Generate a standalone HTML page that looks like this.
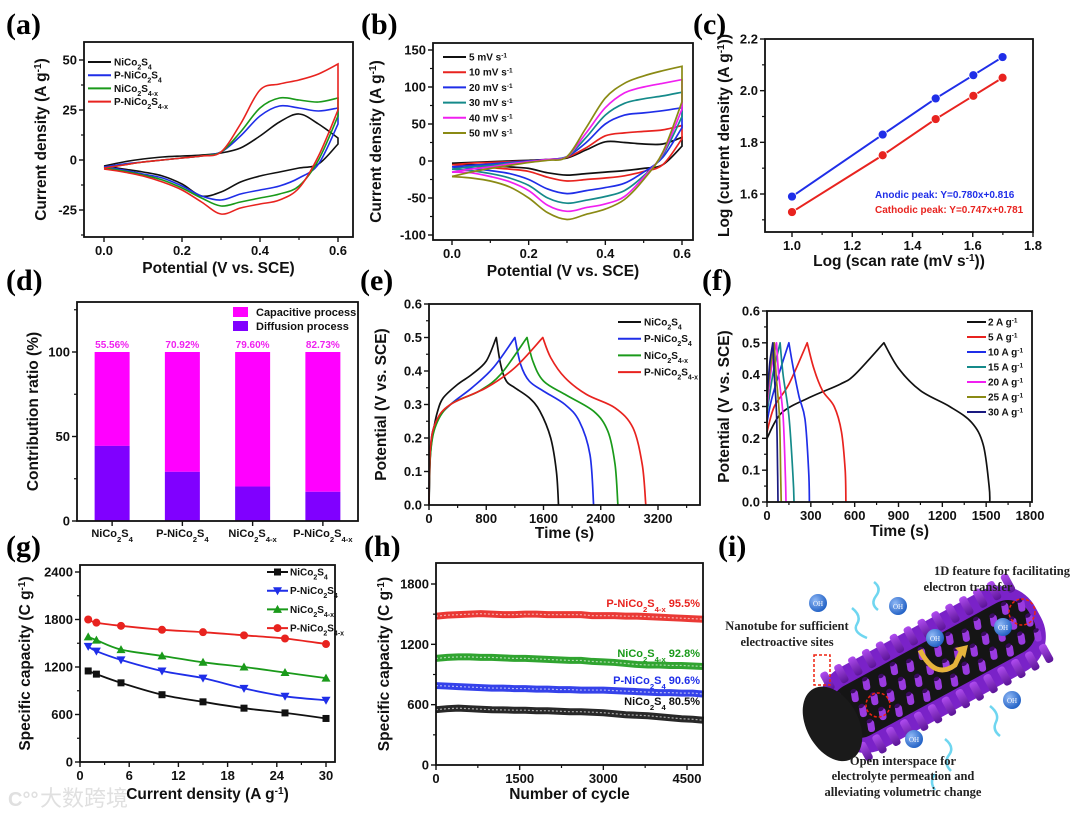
<!DOCTYPE html>
<html><head><meta charset="utf-8">
<style>
html,body{margin:0;padding:0;background:#fff;}
svg{display:block;font-family:"Liberation Sans",Arial,sans-serif;}
.tk{font-size:13px;font-weight:bold;fill:#111;}
.ti{font-size:15.5px;font-weight:bold;fill:#111;}
.pl{font-family:"Liberation Serif",serif;font-size:30px;font-weight:bold;fill:#000;}
.lg{font-size:10px;font-weight:bold;fill:#111;}
.ser{font-family:"Liberation Serif",serif;font-size:12.5px;font-weight:bold;fill:#222;}
</style></head>
<body>
<svg id="fig" width="1080" height="820" viewBox="0 0 1080 820" xmlns="http://www.w3.org/2000/svg">
<defs>
<radialGradient id="ohg" cx="0.35" cy="0.35" r="0.7"><stop offset="0" stop-color="#8fb8f5"/><stop offset="1" stop-color="#1f5fc4"/></radialGradient>
<linearGradient id="pg" x1="0" y1="0" x2="0" y2="1"><stop offset="0" stop-color="#b04cf0"/><stop offset="1" stop-color="#5a1496"/></linearGradient>
</defs>
<text class="pl" x="6" y="34">(a)</text>
<text class="pl" x="361" y="34">(b)</text>
<text class="pl" x="693" y="34">(c)</text>
<text class="pl" x="6" y="290">(d)</text>
<text class="pl" x="360" y="290">(e)</text>
<text class="pl" x="702" y="290">(f)</text>
<text class="pl" x="6" y="556">(g)</text>
<text class="pl" x="364" y="556">(h)</text>
<text class="pl" x="718" y="556">(i)</text>
<text x="40" y="806" font-size="22" fill="#e0e0e0" font-family="'Liberation Sans','Noto Sans CJK SC',sans-serif">大数跨境</text>
<text x="8" y="806" font-size="20" fill="#e0e0e0" font-weight="bold">C°°</text>
</svg>
<script>
// ---------- data ----------
const cvPot=[0,0.05,0.1,0.15,0.2,0.25,0.3,0.35,0.4,0.45,0.5,0.55,0.6];
const aNames=['NiCo2S4','P-NiCo2S4','NiCo2S4-x','P-NiCo2S4-x'];
const aBlackUp=[-3,-1,0.5,1.5,2,2.5,3.5,6,12,19,23,18,11];
const aBlackDn=[-3,-4.5,-6,-8,-12,-18,-16,-11,-8,-6,-4,-2,8];
const aBlueUp=[-3.5,-2,-1,0,1,2,4,12,22,27,26,24.5,26];
const aBlueDn=[-3.5,-5,-7,-9,-13,-18,-20,-17,-15,-13,-9,-2,18];
const aGreenUp=[-4,-2.5,-1,0,1,2,4,14,26,31,30,29,31];
const aGreenDn=[-4,-5.5,-7.5,-10,-14,-19,-23,-21,-19,-17,-13,0,22];
const aRedUp=[-4,-2.5,-1,0,1,2,4,18,35,38,40,43,48];
const aRedDn=[-4.5,-6,-8,-11,-15,-21,-27,-24,-22,-20,-14,2,25];
const bRates=['5','10','20','30','40','50'];
const b5Up=[-3,-2,-1,0,1,2,4,15,26,25,23,23,32];
const b5Dn=[-3,-5,-6,-8,-10,-16,-19,-17,-15,-13,-10,-5,20];
const b10Up=[-5,-3,-2,-1,0,2,5,18,34,38,40,42,48];
const b10Dn=[-5,-7,-9,-11,-14,-22,-27,-25,-23,-20,-14,-5,30];
const b20Up=[-8,-6,-4,-2,0,2,6,25,50,62,65,68,72];
const b20Dn=[-8,-10,-13,-17,-25,-38,-44,-40,-36,-30,-15,5,45];
const b30Up=[-11,-8,-6,-3,-1,2,6,32,62,78,84,88,93];
const b30Dn=[-11,-13,-17,-23,-33,-50,-57,-53,-48,-40,-20,8,60];
const b40Up=[-15,-11,-8,-4,-1,2,6,38,72,92,100,105,110];
const b40Dn=[-15,-16,-21,-28,-40,-60,-68,-63,-58,-48,-22,10,70];
const b50Up=[-21,-15,-10,-6,-2,1,6,45,85,105,115,122,128];
const b50Dn=[-21,-23,-27,-35,-50,-70,-79,-72,-65,-52,-25,12,80];
const cLogRate=[1.0,1.301,1.477,1.602,1.699];
const cAnodic=[1.59,1.83,1.97,2.06,2.13];
const cCathodic=[1.53,1.75,1.89,1.98,2.05];
const dCats=['NiCo2S4','P-NiCo2S4','NiCo2S4-x','P-NiCo2S4-x'];
const dCapacitive=[55.56,70.92,79.60,82.73];
const dDiffusion=[44.44,29.08,20.40,17.27];
const eBlackT=[0,20,60,120,200,400,600,800,940,1000,1080,1200,1400,1550,1700,1780,1810];
const eBlackV=[0,0.15,0.22,0.28,0.32,0.36,0.39,0.43,0.5,0.42,0.37,0.35,0.32,0.28,0.2,0.1,0];
const eBlueT=[0,20,100,300,600,900,1200,1280,1400,1600,1900,2100,2250,2300];
const eBlueV=[0,0.17,0.25,0.3,0.35,0.41,0.5,0.42,0.37,0.34,0.3,0.25,0.15,0];
const eGreenT=[0,20,100,300,700,1000,1370,1450,1600,1900,2300,2500,2600,2640];
const eGreenV=[0,0.15,0.24,0.3,0.34,0.39,0.5,0.43,0.37,0.33,0.28,0.22,0.12,0];
const eRedT=[0,20,100,300,800,1200,1590,1700,1900,2200,2600,2850,2980,3030];
const eRedV=[0,0.17,0.25,0.3,0.35,0.41,0.5,0.44,0.38,0.33,0.29,0.23,0.12,0];
const fLabels=['2','5','10','15','20','25','30'];
const f2T=[0,100,300,500,600,800,900,1050,1250,1400,1480,1520,1525];
const f2V=[0.2,0.28,0.33,0.37,0.4,0.5,0.42,0.35,0.3,0.25,0.18,0.05,0];
const f5T=[0,50,150,275,320,380,460,510,535,540];
const f5V=[0.22,0.3,0.37,0.5,0.42,0.35,0.3,0.22,0.1,0];
const f10T=[0,30,80,150,180,220,260,285,290];
const f10V=[0.25,0.32,0.4,0.5,0.42,0.33,0.26,0.1,0];
const f15T=[0,40,90,110,150,178,185];
const f15V=[0.28,0.4,0.5,0.4,0.27,0.08,0];
const f20T=[0,30,65,80,110,126,130];
const f20V=[0.3,0.42,0.5,0.4,0.27,0.08,0];
const f25T=[0,25,50,62,85,94,97];
const f25V=[0.32,0.43,0.5,0.4,0.27,0.08,0];
const f30T=[0,20,40,50,66,73,75];
const f30V=[0.33,0.44,0.5,0.4,0.27,0.08,0];
const gCurrent=[1,2,5,10,15,20,25,30];
const gBlack=[1150,1110,1000,850,760,680,620,550];
const gBlue=[1460,1400,1290,1150,1060,930,830,780];
const gGreen=[1580,1540,1420,1340,1260,1200,1130,1060];
const gRed=[1800,1760,1720,1670,1640,1600,1560,1490];
const hCycles=[0,200,400,600,800,1000,1200,1400,1600,1800,2000,2200,2400,2600,2800,3000,3200,3400,3600,3800,4000,4200,4400,4600,4800];
const hRed=[1480,1490,1495,1500,1505,1500,1495,1495,1500,1500,1495,1495,1495,1495,1485,1485,1485,1480,1480,1475,1470,1465,1460,1455,1450];
const hGreen=[1060,1070,1075,1075,1070,1070,1065,1060,1060,1055,1050,1045,1040,1040,1030,1025,1020,1010,1000,995,995,990,990,985,980];
const hBlue=[790,785,780,775,770,765,765,760,760,755,755,750,750,745,745,745,740,735,730,725,720,720,715,715,705];
const hBlack=[550,560,565,560,555,550,548,545,545,540,540,535,530,530,525,520,510,500,495,490,480,470,460,455,445];
const hRetention=['95.5%','92.8%','90.6%','80.5%'];

// ---------- helpers ----------
const NS='http://www.w3.org/2000/svg';
const svg=document.getElementById('fig');
function mk(parent,tag,attrs){const e=document.createElementNS(NS,tag);for(const k in attrs)e.setAttribute(k,attrs[k]);parent.appendChild(e);return e;}
function subName(n){
  let s=n.replace('Co2','Co<tspan baseline-shift="sub" font-size="70%">2</tspan>');
  s=s.replace(/S4-x$/,'S<tspan baseline-shift="sub" font-size="70%">4-x</tspan>');
  s=s.replace(/S4$/,'S<tspan baseline-shift="sub" font-size="70%">4</tspan>');
  return s;
}
function smooth(pts){
  if(pts.length<2)return '';
  let d='M'+pts[0][0].toFixed(1)+','+pts[0][1].toFixed(1);
  for(let i=0;i<pts.length-1;i++){
    const p0=pts[Math.max(0,i-1)],p1=pts[i],p2=pts[i+1],p3=pts[Math.min(pts.length-1,i+2)];
    const c1=[p1[0]+(p2[0]-p0[0])/6,p1[1]+(p2[1]-p0[1])/6];
    const c2=[p2[0]-(p3[0]-p1[0])/6,p2[1]-(p3[1]-p1[1])/6];
    d+='C'+c1[0].toFixed(1)+','+c1[1].toFixed(1)+' '+c2[0].toFixed(1)+','+c2[1].toFixed(1)+' '+p2[0].toFixed(1)+','+p2[1].toFixed(1);
  }
  return d;
}
function smoothPeak(pts){
  let k=0;pts.forEach((p,i)=>{if(p[1]<pts[k][1])k=i;});
  return smooth(pts.slice(0,k+1))+smooth(pts.slice(k)).replace('M','L');
}
function axes(o){
  const g=mk(svg,'g',{});
  
  
  const X=v=>o.px0+(v-o.x0)*(o.px1-o.px0)/(o.x1-o.x0);
  const Y=v=>o.py0+(v-o.y0)*(o.py1-o.py0)/(o.y1-o.y0);
  const plot=mk(g,'g',{});
  
  
  const fr=mk(g,'rect',{x:o.L,y:o.T,width:o.R-o.L,height:o.B-o.T,fill:'none',stroke:'#111','stroke-width':1.8});
  
  
  const xa=mk(g,'g',{});
  
  
  (o.xt||[]).forEach(v=>{const x=X(v);
    mk(xa,'line',{x1:x,x2:x,y1:o.B,y2:o.B+5,stroke:'#111','stroke-width':1.4});
    const t=mk(xa,'text',{x:x,y:o.B+18,'text-anchor':'middle',class:'tk'});t.textContent=o.xf?o.xf(v):v;
    
    
  });
  (o.xm||[]).forEach(v=>{const x=X(v);mk(xa,'line',{x1:x,x2:x,y1:o.B,y2:o.B+3,stroke:'#111','stroke-width':1.2});});
  const ya=mk(g,'g',{});
  
  
  (o.yt||[]).forEach(v=>{const y=Y(v);
    mk(ya,'line',{x1:o.L-5,x2:o.L,y1:y,y2:y,stroke:'#111','stroke-width':1.4});
    const t=mk(ya,'text',{x:o.L-7,y:y+4.5,'text-anchor':'end',class:'tk'});t.textContent=o.yf?o.yf(v):v;
    
    
  });
  (o.ym||[]).forEach(v=>{const y=Y(v);mk(ya,'line',{x1:o.L-3,x2:o.L,y1:y,y2:y,stroke:'#111','stroke-width':1.2});});
  if(o.xtitle){const t=mk(g,'text',{x:(o.L+o.R)/2,y:o.xty,'text-anchor':'middle',class:'ti'});t.innerHTML=o.xtitle;
    
    }
  if(o.ytitle){const cy=(o.T+o.B)/2;const t=mk(g,'text',{x:o.ytx,y:cy,'text-anchor':'middle',class:'ti',transform:'rotate(-90 '+o.ytx+' '+cy+')'});t.innerHTML=o.ytitle;
    
    }
  return {g,plot,X,Y};
}
const sup1='<tspan baseline-shift="super" font-size="65%">-1</tspan>';
function legendLine(parent,x1,x2,y,color,label,tx,cls,name){
  const ln=mk(parent,'line',{x1:x1,x2:x2,y1:y,y2:y,stroke:color,'stroke-width':2});
  
  
  const t=mk(parent,'text',{x:tx,y:y+3.5,class:cls||'lg'});t.innerHTML=label;
  
  
}

// ---------- (a) ----------
(function(){
  const A=axes({id:'a',L:84,R:353,T:42,B:237,x0:0,x1:0.6,px0:104,px1:338,y0:0,y1:25,py0:160,py1:110,
    xt:[0,0.2,0.4,0.6],xm:[0.1,0.3,0.5],xf:v=>v.toFixed(1),yt:[-25,0,25,50],ym:[-37.5,-12.5,12.5,37.5],
    xtitle:'Potential (V vs. SCE)',xty:273,ytitle:'Current density (A g'+sup1+')',ytx:46});
  const ups=[aBlackUp,aBlueUp,aGreenUp,aRedUp],dns=[aBlackDn,aBlueDn,aGreenDn,aRedDn],cols=['#111','#1f2ee8','#1a9a1a','#e8231f'];
  ups.forEach((u,i)=>{
    const up=cvPot.map((p,j)=>[A.X(p),A.Y(u[j])]);
    const dn=cvPot.map((p,j)=>[A.X(p),A.Y(dns[i][j])]).reverse();
    const p=mk(A.plot,'path',{d:smooth(up)+smooth(dn).replace('M','L'),fill:'none',stroke:cols[i],'stroke-width':1.6});
    
    
  });
  const lg=mk(A.g,'g',{});
  
  
  aNames.forEach((n,i)=>legendLine(lg,88,111,62+i*13.2,cols[i],subName(n),114,'lg','a-legend-'+n));
})();

// ---------- (b) ----------
(function(){
  const A=axes({id:'b',L:433,R:693,T:43,B:240,x0:0,x1:0.6,px0:452,px1:682,y0:0,y1:50,py0:161,py1:124,
    xt:[0,0.2,0.4,0.6],xm:[0.1,0.3,0.5],xf:v=>v.toFixed(1),yt:[-100,-50,0,50,100,150],ym:[-75,-25,25,75,125],
    xtitle:'Potential (V vs. SCE)',xty:276,ytitle:'Current density (A g'+sup1+')',ytx:381});
  const ups=[b5Up,b10Up,b20Up,b30Up,b40Up,b50Up],dns=[b5Dn,b10Dn,b20Dn,b30Dn,b40Dn,b50Dn];
  const cols=['#111','#e8231f','#1f2ee8','#158a8a','#f020f0','#8a8a14'];
  ups.forEach((u,i)=>{
    const up=cvPot.map((p,j)=>[A.X(p),A.Y(u[j])]);
    const dn=cvPot.map((p,j)=>[A.X(p),A.Y(dns[i][j])]).reverse();
    const p=mk(A.plot,'path',{d:smooth(up)+smooth(dn).replace('M','L'),fill:'none',stroke:cols[i],'stroke-width':1.7});
    
    
  });
  const lg=mk(A.g,'g',{});
  
  
  bRates.forEach((r,i)=>legendLine(lg,443,466,57+i*15.2,cols[i],r+' mV s'+sup1,469,'lg','b-legend-'+r));
})();

// ---------- (c) ----------
(function(){
  const A=axes({id:'c',L:765,R:1033,T:39,B:232,x0:1.0,x1:1.8,px0:792,px1:1033,y0:1.6,y1:2.2,py0:194,py1:39,
    xt:[1.0,1.2,1.4,1.6,1.8],xm:[1.1,1.3,1.5,1.7],xf:v=>v.toFixed(1),yt:[1.6,1.8,2.0,2.2],ym:[1.5,1.7,1.9,2.1],yf:v=>v.toFixed(1),
    xtitle:'Log (scan rate (mV s'+sup1+'))',xty:266,ytitle:'Log (current density (A g'+sup1+'))',ytx:729});
  [[cAnodic,'#1f2ee8','anodic'],[cCathodic,'#e8231f','cathodic']].forEach(([ys,c,n])=>{
    const pts=cLogRate.map((x,i)=>[A.X(x),A.Y(ys[i])]);
    const l=mk(A.plot,'polyline',{points:pts.map(p=>p.join(',')).join(' '),fill:'none',stroke:c,'stroke-width':2});
    
    
    pts.forEach(p=>{const m=mk(A.plot,'circle',{cx:p[0],cy:p[1],r:4.5,fill:c,stroke:'#fff','stroke-width':0.8});
      
      });
  });
  let t=mk(A.g,'text',{x:875,y:198,class:'lg',style:'fill:#1f2ee8'});t.textContent='Anodic peak: Y=0.780x+0.816';
  
  
  t=mk(A.g,'text',{x:875,y:213,class:'lg',style:'fill:#e8231f'});t.textContent='Cathodic peak: Y=0.747x+0.781';
  
  
})();

// ---------- (d) ----------
(function(){
  const A=axes({id:'d',L:77,R:358,T:302,B:521,x0:0,x1:4,px0:77,px1:358,y0:0,y1:100,py0:521,py1:352,
    yt:[0,50,100],ym:[25,75,125],ytitle:'Contribution ratio (%)',ytx:38});
  const bw=35;
  dCats.forEach((c,i)=>{
    const cx=A.X(i+0.5);
    let r=mk(A.plot,'rect',{x:cx-bw/2,y:A.Y(100),width:bw,height:A.Y(dDiffusion[i])-A.Y(100),fill:'#ff00ff'});
    
    
    r=mk(A.plot,'rect',{x:cx-bw/2,y:A.Y(dDiffusion[i]),width:bw,height:A.Y(0)-A.Y(dDiffusion[i]),fill:'#8000ff'});
    
    
    let t=mk(A.g,'text',{x:cx,y:A.Y(100)-4,'text-anchor':'middle',class:'lg',style:'fill:#f020f0'});t.textContent=dCapacitive[i].toFixed(2)+'%';
    
    
    t=mk(A.g,'text',{x:cx,y:537,'text-anchor':'middle',class:'lg',style:'font-size:11px'});t.innerHTML=subName(c);
    
    
    mk(A.g,'line',{x1:cx,x2:cx,y1:521,y2:526,stroke:'#111','stroke-width':1.4});
  });
  const lg=mk(A.g,'g',{});
  
  
  let s=mk(lg,'rect',{x:233,y:307,width:15,height:10,fill:'#ff00ff'});
  
  
  let t=mk(lg,'text',{x:256,y:316,class:'lg',style:'font-size:11px'});t.textContent='Capacitive process';
  
  
  s=mk(lg,'rect',{x:233,y:321,width:15,height:10,fill:'#8000ff'});
  
  
  t=mk(lg,'text',{x:256,y:330,class:'lg',style:'font-size:11px'});t.textContent='Diffusion process';
  
  
})();

// ---------- (e) ----------
(function(){
  const A=axes({id:'e',L:429,R:700,T:304,B:505,x0:0,x1:3200,px0:429,px1:658,y0:0,y1:0.6,py0:505,py1:304,
    xt:[0,800,1600,2400,3200],xm:[400,1200,2000,2800,3600],yt:[0,0.1,0.2,0.3,0.4,0.5,0.6],ym:[0.05,0.15,0.25,0.35,0.45,0.55],yf:v=>v.toFixed(1),
    xtitle:'Time (s)',xty:538,ytitle:'Potential (V vs. SCE)',ytx:386});
  const T=[eBlackT,eBlueT,eGreenT,eRedT],V=[eBlackV,eBlueV,eGreenV,eRedV],cols=['#111','#1f2ee8','#1a9a1a','#e8231f'];
  T.forEach((ts,i)=>{
    const pts=ts.map((t,j)=>[A.X(t),A.Y(V[i][j])]);
    const p=mk(A.plot,'path',{d:smoothPeak(pts),fill:'none',stroke:cols[i],'stroke-width':1.7,'stroke-linejoin':'round'});
    
    
  });
  const lg=mk(A.g,'g',{});
  
  
  aNames.forEach((n,i)=>legendLine(lg,618,641,322+i*16.7,cols[i],subName(n),644,'lg','e-legend-'+n));
})();

// ---------- (f) ----------
(function(){
  const A=axes({id:'f',L:767,R:1032,T:311,B:502,x0:0,x1:1800,px0:767,px1:1030,y0:0,y1:0.6,py0:502,py1:311,
    xt:[0,300,600,900,1200,1500,1800],xm:[150,450,750,1050,1350,1650],yt:[0,0.1,0.2,0.3,0.4,0.5,0.6],ym:[0.05,0.15,0.25,0.35,0.45,0.55],yf:v=>v.toFixed(1),
    xtitle:'Time (s)',xty:536,ytitle:'Potential (V vs. SCE)',ytx:729});
  const T=[f2T,f5T,f10T,f15T,f20T,f25T,f30T],V=[f2V,f5V,f10V,f15V,f20V,f25V,f30V];
  const cols=['#111','#e8231f','#1f2ee8','#158a8a','#f020f0','#8a8a14','#1a1a80'];
  T.forEach((ts,i)=>{
    const pts=ts.map((t,j)=>[A.X(t),A.Y(V[i][j])]);
    const p=mk(A.plot,'path',{d:smoothPeak(pts),fill:'none',stroke:cols[i],'stroke-width':1.7,'stroke-linejoin':'round'});
    
    
  });
  const lg=mk(A.g,'g',{});
  
  
  fLabels.forEach((n,i)=>legendLine(lg,967,986,322+i*15,cols[i],n+' A g'+sup1,988,'lg','f-legend-'+n));
})();

// ---------- (g) ----------
(function(){
  const A=axes({id:'g',L:80,R:335,T:565,B:762,x0:0,x1:30,px0:80,px1:326,y0:0,y1:2400,py0:762,py1:572,
    xt:[0,6,12,18,24,30],xm:[3,9,15,21,27],yt:[0,600,1200,1800,2400],ym:[300,900,1500,2100],
    xtitle:'Current density (A g'+sup1+')',xty:799,ytitle:'Specific capacity (C g'+sup1+')',ytx:30});
  const S=[gBlack,gBlue,gGreen,gRed],cols=['#111','#1f2ee8','#1a9a1a','#e8231f'],mks=['sq','dn','up','ci'];
  function marker(parent,x,y,t,c){
    let e;
    if(t==='sq')e=mk(parent,'rect',{x:x-3.5,y:y-3.5,width:7,height:7,fill:c});
    else if(t==='ci')e=mk(parent,'circle',{cx:x,cy:y,r:4,fill:c});
    else if(t==='up')e=mk(parent,'polygon',{points:(x-4.5)+','+(y+3.5)+' '+(x+4.5)+','+(y+3.5)+' '+x+','+(y-4.5),fill:c});
    else e=mk(parent,'polygon',{points:(x-4.5)+','+(y-3.5)+' '+(x+4.5)+','+(y-3.5)+' '+x+','+(y+4.5),fill:c});
    return e;
  }
  S.forEach((s,i)=>{
    const pts=gCurrent.map((x,j)=>[A.X(x),A.Y(s[j])]);
    const p=mk(A.plot,'path',{d:smooth(pts),fill:'none',stroke:cols[i],'stroke-width':1.8});
    
    
    pts.forEach(q=>{const m=marker(A.plot,q[0],q[1],mks[i],cols[i]);
      
      });
  });
  const lg=mk(A.g,'g',{});
  
  
  aNames.forEach((n,i)=>{const y=572+i*18.7;legendLine(lg,267,288,y,cols[i],subName(n),290,'lg','g-legend-'+n);
    const m=marker(lg,277.5,y,mks[i],cols[i]);
    
    });
})();

// ---------- (h) ----------
(function(){
  const A=axes({id:'h',L:436,R:703,T:563,B:765,x0:0,x1:4500,px0:436,px1:687,y0:0,y1:1800,py0:765,py1:584,
    xt:[0,1500,3000,4500],xm:[750,2250,3750],yt:[0,600,1200,1800],ym:[300,900,1500],
    xtitle:'Number of cycle',xty:799,ytitle:'Specific capacity (C g'+sup1+')',ytx:389});
  const S=[hRed,hGreen,hBlue,hBlack],cols=['#e8231f','#1a9a1a','#1f2ee8','#111'],nm=['P-NiCo2S4-x','NiCo2S4-x','P-NiCo2S4','NiCo2S4'];
  S.forEach((s,i)=>{
    const pts=hCycles.map((x,j)=>[A.X(x),A.Y(s[j])]);
    const p=mk(A.plot,'polyline',{points:pts.map(q=>q.join(',')).join(' '),fill:'none',stroke:cols[i],'stroke-width':7,opacity:0.9});
    
    
    const p2=mk(A.plot,'polyline',{points:pts.map(q=>q.join(',')).join(' '),fill:'none',stroke:'#fff','stroke-width':1.2,'stroke-dasharray':'2 2',opacity:0.6});
    
    
  });
  const ly=[607,657,684,705];
  nm.forEach((n,i)=>{const t=mk(A.g,'text',{x:700,y:ly[i],'text-anchor':'end',class:'lg',style:'font-size:11px;fill:'+cols[i]});
    t.innerHTML=subName(n)+'  '+hRetention[i];
    
    });
})();

// ---------- (i) illustration ----------
(function(){
  const g=mk(svg,'g',{});
  
  
  const body=mk(g,'g',{transform:'translate(836,722) rotate(-28.5)'});
  mk(body,'rect',{x:-10,y:-46,width:240,height:92,rx:40,fill:'#7a22c8'});
  mk(body,'rect',{x:0,y:-28,width:222,height:56,rx:24,fill:'#151515'});
  for(let i=0;i<14;i++){
    const x=12+i*15.8;
    for(let k=-1;k<=1;k+=2){
      mk(body,'rect',{x:x-4,y:k<0?-50:30,width:8,height:20,rx:3,fill:'url(#pg)'});
    }
    for(let r=0;r<3;r++){
      const y=-17+r*17+(i%2)*5;
      mk(body,'rect',{x:x-3,y:y-8,width:7,height:12,rx:3,fill:'#9a3ae0',transform:'rotate(20 '+x+' '+y+')'});
      mk(body,'ellipse',{cx:x+2,cy:y-7,rx:3,ry:2,fill:'#3a0a60'});
    }
  }
  const cap=mk(body,'ellipse',{cx:-4,cy:0,rx:26,ry:40,fill:'#1a1a1a'});
  
  
  mk(g,'circle',{cx:1022,cy:612,r:13,fill:'none',stroke:'#e21','stroke-width':1.5,'stroke-dasharray':'3 2'});
  mk(g,'circle',{cx:878,cy:705,r:12,fill:'none',stroke:'#e21','stroke-width':1.5,'stroke-dasharray':'3 2'});
  mk(g,'rect',{x:814,y:655,width:16,height:30,fill:'none',stroke:'#e21','stroke-width':1.5,'stroke-dasharray':'3 2'});
  mk(g,'path',{d:'M920,650 Q935,680 955,665 L962,650',fill:'none',stroke:'#e6b43c','stroke-width':5});
  mk(g,'polygon',{points:'955,648 968,645 965,658',fill:'#e6b43c'});
  const oh=[[818,603],[898,606],[935,638],[1003,627],[1012,700],[914,739]];
  oh.forEach(p=>{const c=mk(g,'circle',{cx:p[0],cy:p[1],r:9,fill:'url(#ohg)'});
    
    
    const t=mk(g,'text',{x:p[0],y:p[1]+3,'text-anchor':'middle','font-size':'7',fill:'#fff','font-family':'Liberation Serif,serif'});t.textContent='OH';});
  const arrows=['M852,608 q10,8 5,16 q-5,8 10,14','M878,610 q-8,-6 -2,-14 q6,-8 -2,-14','M951,771 q-8,-8 -2,-16 q6,-8 -4,-16','M1000,736 q-8,-6 -4,-14 q4,-8 -6,-16','M935,790 q-6,-8 0,-16'];
  arrows.forEach(d=>{const a=mk(g,'path',{d:d,fill:'none',stroke:'#6fd6f0','stroke-width':2.5});
    
    });
  const lines=[[1002,575,'1D feature for facilitating','middle'],[968,591,'electron transfer','middle'],
    [787,630,'Nanotube for sufficient','middle'],[787,646,'electroactive sites','middle'],
    [903,765,'Open interspace for','middle'],[903,780,'electrolyte permeation and','middle'],[903,796,'alleviating volumetric change','middle']];
  lines.forEach(l=>{const t=mk(g,'text',{x:l[0],y:l[1],'text-anchor':l[3],class:'ser'});t.textContent=l[2];
    
    });
})();
</script>
</body></html>
